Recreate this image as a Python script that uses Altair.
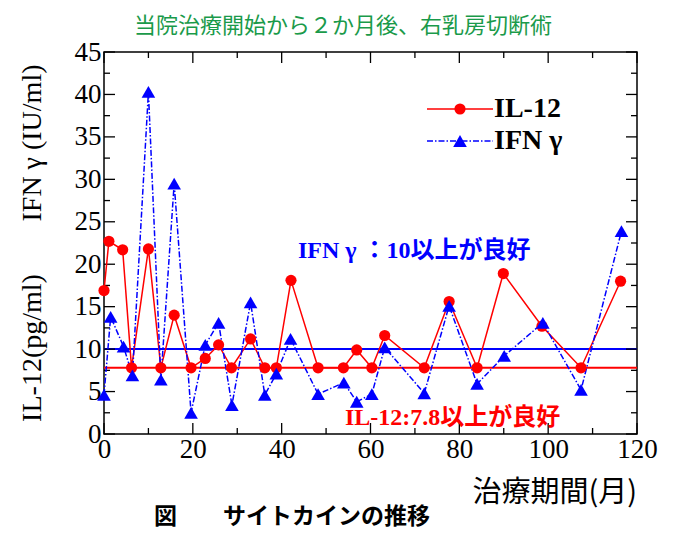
import altair as alt
import pandas as pd

# ---- data ----
il12_months = [0, 1.1, 4.2, 6.2, 10, 12.8, 15.8, 19.6, 22.8, 25.8, 28.7, 33, 36.2, 38.8,
               42.1, 48.2, 53.9, 56.9, 60.3, 63.2, 72.1, 77.7, 84, 89.9, 98.6, 107.4, 116.3]
il12_vals = [16.9, 22.7, 21.7, 7.8, 21.8, 7.8, 14.0, 7.8, 8.9, 10.5, 7.8, 11.2, 7.8, 7.8,
             18.1, 7.8, 7.8, 9.9, 7.8, 11.6, 7.8, 15.6, 7.8, 18.9, 12.7, 7.8, 18.0]

ifn_months = [0, 1.5, 4.4, 6.4, 10, 12.8, 15.8, 19.6, 22.8, 25.8, 28.8, 33, 36.2, 38.8,
              42, 48.2, 54, 56.9, 60.3, 63.2, 72.1, 77.7, 84, 90.1, 98.8, 107.4, 116.5]
ifn_vals = [4.6, 13.8, 10.3, 6.9, 40.3, 6.4, 29.5, 2.5, 10.5, 13.1, 3.4, 15.5, 4.6, 7.1,
            11.2, 4.7, 6.05, 3.8, 4.7, 10.2, 4.8, 15.1, 5.9, 9.2, 13.1, 5.2, 23.9]

thresholds = [10, 7.8]
threshold_colors = ["#0000ff", "#ff0000"]

x_major = [0, 20, 40, 60, 80, 100, 120]
x_minor = [10, 30, 50, 70, 90, 110]
y_major = [0, 5, 10, 15, 20, 25, 30, 35, 40, 45]
y_minor = [2.5, 7.5, 12.5, 17.5, 22.5, 27.5, 32.5, 37.5, 42.5]

title_text = "当院治療開始から２か月後、右乳房切断術"
caption_text = "図　　サイトカインの推移"
xtitle_text = "治療期間(月)"
ytitle_upper = "IFN γ (IU/ml)"
ytitle_lower = "IL-12(pg/ml)"
note_ifn = "IFN γ ：10以上が良好"
note_il12 = "IL-12:7.8以上が良好"
legend_labels = ["IL-12", "IFN γ"]

RED = "#ff0000"
BLUE = "#0000ff"
W, H = 533, 382
SERIF = "Liberation Serif, Noto Sans CJK JP"
CJK = "Noto Sans CJK JP"

il12 = pd.DataFrame({"month": il12_months, "value": il12_vals})
ifn = pd.DataFrame({"month": ifn_months, "value": ifn_vals})

xs = alt.Scale(domain=[0, 120], nice=False, zero=False)
ys = alt.Scale(domain=[0, 45], nice=False, zero=False)

x_axis = alt.Axis(values=x_major, ticks=False, domain=False, grid=False, title=None,
                  labelFont="Liberation Serif", labelFontSize=27, labelColor="black",
                  labelPadding=2, labelFlush=False)
y_axis = alt.Axis(values=y_major, ticks=False, domain=False, grid=False, title=None,
                  labelFont="Liberation Serif", labelFontSize=27, labelColor="black",
                  labelPadding=3)

base_il12 = alt.Chart(il12).encode(
    x=alt.X("month:Q", scale=xs, axis=x_axis),
    y=alt.Y("value:Q", scale=ys, axis=y_axis),
)
base_ifn = alt.Chart(ifn).encode(
    x=alt.X("month:Q", scale=xs),
    y=alt.Y("value:Q", scale=ys),
)

il12_line = base_il12.mark_line(color=RED, strokeWidth=1.5)
il12_pts = base_il12.mark_point(shape="circle", filled=True, color=RED, size=125, opacity=1)
ifn_line = base_ifn.mark_line(color=BLUE, strokeWidth=1.5, strokeDash=[6, 2, 1.5, 2])
ifn_pts = base_ifn.mark_point(shape="triangle-up", filled=True, color=BLUE, size=185, opacity=1)

thr_df = pd.DataFrame({"value": thresholds, "color": threshold_colors})
thr = alt.Chart(thr_df).mark_rule(strokeWidth=2).encode(
    y=alt.Y("value:Q", scale=ys),
    color=alt.Color("color:N", scale=None, legend=None),
)


def ticks(vals, axis, length):
    df = pd.DataFrame({"v": vals})
    c = alt.Chart(df).mark_rule(color="black", strokeWidth=1.3)
    if axis == "bottom":
        return c.encode(x=alt.X("v:Q", scale=xs), y=alt.value(H), y2=alt.value(H - length))
    if axis == "top":
        return c.encode(x=alt.X("v:Q", scale=xs), y=alt.value(0), y2=alt.value(length))
    if axis == "left":
        return c.encode(y=alt.Y("v:Q", scale=ys), x=alt.value(0), x2=alt.value(length))
    return c.encode(y=alt.Y("v:Q", scale=ys), x=alt.value(W), x2=alt.value(W - length))


tick_layers = []
for side in ["bottom", "top"]:
    tick_layers.append(ticks(x_major, side, 11))
    tick_layers.append(ticks(x_minor, side, 6))
for side in ["left", "right"]:
    tick_layers.append(ticks(y_major, side, 11))
    tick_layers.append(ticks(y_minor, side, 6))


def text(label, x, y, **kw):
    return alt.Chart(pd.DataFrame({"t": [label]})).mark_text(**kw).encode(
        text="t:N", x=alt.value(x), y=alt.value(y))


texts = [
    text(title_text, 30, -26, font=CJK, fontSize=22, color="#1a9a4a", align="left", baseline="middle"),
    text(caption_text, 50, 465, font=CJK, fontSize=23, fontWeight="bold", color="black",
         align="left", baseline="middle"),
    text(xtitle_text, 533, 441, font=CJK, fontSize=29, color="black", align="right", baseline="middle"),
    text(ytitle_upper, -71, 91, font="Liberation Serif", fontSize=28, color="black", angle=270,
         align="center", baseline="middle"),
    text(ytitle_lower, -71, 296, font="Liberation Serif", fontSize=28, color="black", angle=270,
         align="center", baseline="middle"),
    text(note_ifn, 194, 199, font=SERIF, fontSize=24, fontWeight="bold", color=BLUE,
         align="left", baseline="middle"),
    text(note_il12, 241, 366, font=SERIF, fontSize=24, fontWeight="bold", color=RED,
         align="left", baseline="middle"),
    text(legend_labels[0], 390, 57, font="Liberation Serif", fontSize=28, fontWeight="bold",
         color="black", align="left", baseline="middle"),
    text(legend_labels[1], 390, 89, font="Liberation Serif", fontSize=28, fontWeight="bold",
         color="black", align="left", baseline="middle"),
]

leg_df = pd.DataFrame({"k": [0]})
legend_marks = [
    alt.Chart(leg_df).mark_rule(color=RED, strokeWidth=1.5).encode(
        x=alt.value(323), x2=alt.value(389), y=alt.value(57)),
    alt.Chart(leg_df).mark_point(shape="circle", filled=True, color=RED, size=125, opacity=1).encode(
        x=alt.value(356), y=alt.value(57)),
    alt.Chart(leg_df).mark_rule(color=BLUE, strokeWidth=1.5, strokeDash=[6, 2, 1.5, 2]).encode(
        x=alt.value(323), x2=alt.value(389), y=alt.value(89)),
    alt.Chart(leg_df).mark_point(shape="triangle-up", filled=True, color=BLUE, size=185, opacity=1).encode(
        x=alt.value(356), y=alt.value(89)),
]

chart = alt.layer(
    thr, *tick_layers, il12_line, ifn_line, il12_pts, ifn_pts, *legend_marks, *texts
).properties(
    width=W, height=H,
    autosize=alt.AutoSizeParams(type="none"),
    padding={"left": 96, "top": 44, "right": 34, "bottom": 96},
    background="white",
).configure_view(stroke="black", strokeWidth=1.5)

chart.save("out.html", embed_options={"renderer": "svg", "actions": False})
